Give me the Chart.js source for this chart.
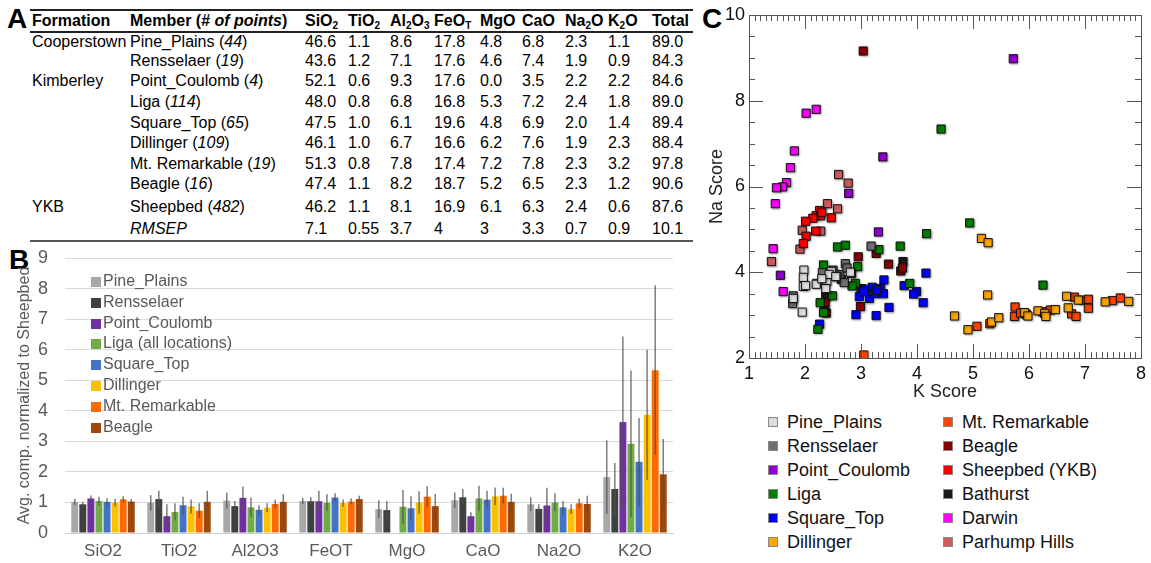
<!DOCTYPE html>
<html>
<head>
<meta charset="utf-8">
<script src="https://cdn.jsdelivr.net/npm/chart.js@4.4.0/dist/chart.umd.min.js"></script>
<style>
body{margin:0;width:1151px;height:563px;background:#fff;position:relative;overflow:hidden;font-family:"Liberation Sans",Arial,sans-serif;color:#000;}
.panel{position:absolute;font-weight:bold;font-size:28px;line-height:28px;}
.cell{position:absolute;font-size:16px;line-height:20px;white-space:nowrap;transform:translateY(-50%);}
.hd{font-weight:bold;}
.rule{position:absolute;left:30px;width:663px;}
sub{font-size:10px;vertical-align:-3px;line-height:0;}
.lgB{position:absolute;left:91px;font-size:16px;color:#595959;white-space:nowrap;line-height:20px;}
.lgB span{display:inline-block;width:10px;height:10px;margin-right:2px;vertical-align:-1px;}
.lgC{position:absolute;font-size:18px;color:#111;white-space:nowrap;line-height:22px;transform:translateY(-50%);}
.lgC span{display:inline-block;width:8px;height:8px;border:1px solid #888;margin-right:9px;vertical-align:1px;}
</style>
</head>
<body>
<div class="panel" style="left:7px;top:5px">A</div>
<div class="panel" style="left:9px;top:246px">B</div>
<div class="panel" style="left:702px;top:5px">C</div>
<div id="table"></div>
<canvas id="barChart" width="690" height="323" style="position:absolute;left:0;top:240px"></canvas>
<div id="legendB"></div>
<canvas id="scatterChart" width="451" height="405" style="position:absolute;left:700px;top:0"></canvas>
<div id="legendC"></div>
<script>
// ---- panel A: table ----
var formations = ["Cooperstown", "", "Kimberley", "", "", "", "", "", "YKB", ""];
var members = ["Pine_Plains", "Rensselaer", "Point_Coulomb", "Liga", "Square_Top", "Dillinger", "Mt. Remarkable", "Beagle", "Sheepbed", "RMSEP"];
var pointCounts = [44, 19, 4, 114, 65, 109, 19, 16, 482, null];
var sio2 = ["46.6", "43.6", "52.1", "48.0", "47.5", "46.1", "51.3", "47.4", "46.2", "7.1"];
var tio2 = ["1.1", "1.2", "0.6", "0.8", "1.0", "1.0", "0.8", "1.1", "1.1", "0.55"];
var al2o3 = ["8.6", "7.1", "9.3", "6.8", "6.1", "6.7", "7.8", "8.2", "8.1", "3.7"];
var feot = ["17.8", "17.6", "17.6", "16.8", "19.6", "16.6", "17.4", "18.7", "16.9", "4"];
var mgo = ["4.8", "4.6", "0.0", "5.3", "4.8", "6.2", "7.2", "5.2", "6.1", "3"];
var cao = ["6.8", "7.4", "3.5", "7.2", "6.9", "7.6", "7.8", "6.5", "6.3", "3.3"];
var na2o = ["2.3", "1.9", "2.2", "2.4", "2.0", "1.9", "2.3", "2.3", "2.4", "0.7"];
var k2o = ["1.1", "0.9", "2.2", "1.8", "1.4", "2.3", "3.2", "1.2", "0.6", "0.9"];
var total = ["89.0", "84.3", "84.6", "89.0", "89.4", "88.4", "97.8", "90.6", "87.6", "10.1"];
var tableHeads = ["Formation", "Member (# <i>of points</i>)", "SiO<sub>2</sub>", "TiO<sub>2</sub>", "Al<sub>2</sub>O<sub>3</sub>",
  "FeO<sub>T</sub>", "MgO", "CaO", "Na<sub>2</sub>O", "K<sub>2</sub>O", "Total"];

// ---- panel B: bars normalized to Sheepbed ----
var oxides = ["SiO2", "TiO2", "Al2O3", "FeOT", "MgO", "CaO", "Na2O", "K2O"];
var barNames = ["Pine_Plains", "Rensselaer", "Point_Coulomb", "Liga (all locations)", "Square_Top", "Dillinger", "Mt. Remarkable", "Beagle"];
var barColors = ["#a9a7a7", "#404040", "#7030a0", "#70ad47", "#4472c4", "#ffc000", "#ff6a00", "#9e480e"];
var pinePlains = [1.02, 0.99, 1.06, 1.05, 0.78, 1.07, 0.94, 1.83];
var rensselaer = [0.94, 1.11, 0.88, 1.04, 0.75, 1.17, 0.79, 1.44];
var pointCoulomb = [1.13, 0.55, 1.15, 1.04, null, 0.55, 0.90, 3.63];
var liga = [1.05, 0.69, 0.84, 0.99, 0.86, 1.13, 1.00, 2.92];
var squareTop = [1.02, 0.91, 0.76, 1.16, 0.81, 1.09, 0.84, 2.33];
var dillinger = [0.99, 0.87, 0.83, 0.98, 1.00, 1.20, 0.78, 3.87];
var mtRemarkable = [1.10, 0.73, 0.95, 1.03, 1.19, 1.22, 0.97, 5.33];
var beagle = [1.03, 1.02, 1.02, 1.11, 0.88, 1.02, 0.95, 1.92];
var pinePlainsErr = [0.10, 0.25, 0.26, 0.10, 0.29, 0.26, 0.23, 1.20];
var rensselaerErr = [0.08, 0.27, 0.17, 0.13, 0.30, 0.27, 0.15, 0.85];
var pointCoulombErr = [0.10, 0.39, 0.37, 0.34, null, 0.13, 0.58, 2.80];
var ligaErr = [0.14, 0.28, 0.32, 0.28, 0.55, 0.42, 0.30, 2.40];
var squareTopErr = [0.12, 0.28, 0.15, 0.14, 0.39, 0.29, 0.21, 1.43];
var dillingerErr = [0.12, 0.23, 0.14, 0.12, 0.37, 0.29, 0.16, 2.13];
var mtRemarkableErr = [0.10, 0.24, 0.14, 0.10, 0.34, 0.26, 0.16, 2.78];
var beagleErr = [0.08, 0.36, 0.25, 0.11, 0.40, 0.26, 0.27, 1.16];

// ---- panel C: K score vs Na score ----
var pinePts = [[1.98,4.05],[1.97,3.88],[1.97,3.67],[2.01,3.69],[2.2,3.72],[2.39,3.79],[2.37,3.62],[2.47,4.02],[2.43,3.95],[2.81,4.0],[1.79,3.39],[1.95,3.07],[2.3,3.85],[2.55,3.9]];
var rensPts = [[3.18,4.61],[2.72,4.2],[2.31,3.99],[2.62,3.95],[2.57,3.9],[2.83,3.97],[2.7,3.76],[2.21,3.74],[1.79,3.45],[1.78,3.27],[2.5,4.05],[2.75,4.1]];
var pcPts = [[5.72,8.98],[3.39,6.69],[2.78,5.84],[3.31,4.94],[1.56,3.93]];
var ligaPts = [[4.43,7.34],[2.58,4.59],[2.72,4.63],[3.32,4.53],[3.7,4.61],[4.17,4.9],[4.94,5.15],[2.94,4.13],[2.33,4.17],[2.65,3.83],[2.9,3.74],[2.84,3.68],[3.87,3.74],[2.49,3.45],[2.27,3.29],[2.33,3.06],[2.23,2.67],[6.25,3.7]];
var squarePts = [[4.16,3.98],[3.41,3.82],[3.77,3.69],[3.99,3.55],[3.94,3.49],[4.11,3.29],[3.5,3.18],[3.27,2.99],[2.91,3.01],[2.97,3.43],[3.15,3.39],[3.08,3.6],[3.2,3.65],[3.25,3.5],[3.35,3.62],[3.4,3.5],[2.26,2.79],[3.05,3.55],[3.28,3.58]];
var dillPts = [[5.15,4.79],[5.27,4.69],[5.26,3.47],[4.67,2.98],[4.91,2.66],[5.33,2.84],[5.46,2.94],[5.92,3.06],[5.98,2.98],[6.16,3.1],[6.28,3.04],[6.3,2.97],[6.47,3.13],[6.67,3.44],[6.88,3.35],[6.7,3.17],[7.36,3.31],[7.78,3.32]];
var mtPts = [[5.07,2.74],[5.3,2.8],[5.75,3.19],[5.74,2.97],[5.85,3.05],[5.95,3.02],[6.24,3.08],[6.38,3.12],[6.81,3.42],[6.97,3.35],[7.06,3.37],[7.06,3.16],[6.76,3.03],[6.84,2.97],[7.49,3.34],[7.63,3.4],[3.05,2.07]];
var beaglePts = [[3.04,9.16],[3.27,4.44],[2.95,4.36],[3.49,4.19],[3.71,4.03],[3.74,4.1],[2.99,3.2],[2.36,3.3],[2.38,3.05]];
var sheepbedPts = [[2.26,5.44],[2.2,5.32],[2.28,5.32],[2.14,5.26],[2.01,5.19],[2.47,5.27],[2.19,4.96],[2.02,4.84],[1.97,4.67],[2.3,5.4]];
var bathurstPts = [[3.75,4.25],[3.01,3.62],[2.37,3.43],[3.0,3.61],[2.35,3.15]];
var darwinPts = [[2.02,7.71],[2.2,7.8],[1.81,6.83],[1.74,6.44],[1.67,6.09],[1.6,5.99],[1.49,5.97],[1.47,5.6],[1.43,4.55],[1.61,3.55]];
var parhumpPts = [[2.6,6.28],[2.77,6.08],[2.4,5.6],[2.58,5.48],[1.95,4.98],[2.28,4.96],[1.91,4.54],[1.4,4.25]];
var groupNames = ["Pine_Plains", "Rensselaer", "Point_Coulomb", "Liga", "Square_Top", "Dillinger",
  "Mt. Remarkable", "Beagle", "Sheepbed (YKB)", "Bathurst", "Darwin", "Parhump Hills"];
var groupColors = ["#dcdcdc", "#707070", "#9400d3", "#007f00", "#0000ff", "#ffa500",
  "#ff4500", "#8b0000", "#ff0000", "#1a1a1a", "#ff00ff", "#cd5c5c"];

// build table
var colX = [32, 130, 305, 348, 390, 434, 480, 522, 565, 608, 652];
var rowY = [42, 61, 81, 102, 123, 143, 164, 184, 207, 229];
var oxideCols = [sio2, tio2, al2o3, feot, mgo, cao, na2o, k2o, total];
var html = "";
html += '<div class="rule" style="top:9px;height:2px;background:#222"></div>';
html += '<div class="rule" style="top:31px;height:2px;background:#222"></div>';
html += '<div class="rule" style="top:240px;height:2px;background:#555"></div>';
tableHeads.forEach(function (h, i) {
  html += '<div class="cell hd" style="left:' + colX[i] + 'px;top:21px">' + h + '</div>';
});
members.forEach(function (m, r) {
  var y = rowY[r];
  if (formations[r]) html += '<div class="cell" style="left:' + colX[0] + 'px;top:' + y + 'px">' + formations[r] + '</div>';
  var label = pointCounts[r] === null ? "<i>" + m + "</i>" : m + " (<i>" + pointCounts[r] + "</i>)";
  html += '<div class="cell" style="left:' + colX[1] + 'px;top:' + y + 'px">' + label + '</div>';
  oxideCols.forEach(function (col, c) {
    html += '<div class="cell" style="left:' + colX[c + 2] + 'px;top:' + y + 'px">' + col[r] + '</div>';
  });
});
document.getElementById("table").innerHTML = html;

// legends
var lb = "";
barNames.forEach(function (n, i) {
  lb += '<div class="lgB" style="top:' + (271 + i * 20.8) + 'px"><span style="background:' + barColors[i] + '"></span>' + n + '</div>';
});
document.getElementById("legendB").innerHTML = lb;
var lc = "";
groupNames.forEach(function (n, i) {
  var col = i < 6 ? 0 : 1, row = i % 6;
  lc += '<div class="lgC" style="left:' + (col ? 943 : 768) + 'px;top:' + (422 + row * 24) + 'px"><span style="background:' + groupColors[i] + '"></span>' + n + '</div>';
});
document.getElementById("legendC").innerHTML = lc;

// bar chart
var barSeries = [pinePlains, rensselaer, pointCoulomb, liga, squareTop, dillinger, mtRemarkable, beagle];
var barErrors = [pinePlainsErr, rensselaerErr, pointCoulombErr, ligaErr, squareTopErr, dillingerErr, mtRemarkableErr, beagleErr];

var errorBars = {
  id: "errorBars",
  afterDatasetsDraw: function (chart) {
    var ctx = chart.ctx, yScale = chart.scales.y;
    ctx.save();
    ctx.strokeStyle = "rgba(80,80,80,0.75)";
    ctx.lineWidth = 1.5;
    chart.data.datasets.forEach(function (ds, i) {
      var meta = chart.getDatasetMeta(i);
      meta.data.forEach(function (bar, j) {
        var v = ds.data[j], e = barErrors[i][j];
        if (v === null || e === null) return;
        ctx.beginPath();
        ctx.moveTo(bar.x, yScale.getPixelForValue(v - e));
        ctx.lineTo(bar.x, yScale.getPixelForValue(v + e));
        ctx.stroke();
      });
    });
    ctx.restore();
  }
};

new Chart(document.getElementById("barChart"), {
  type: "bar",
  data: {
    labels: oxides,
    datasets: barSeries.map(function (d, i) {
      return { label: barNames[i], data: d, backgroundColor: barColors[i], categoryPercentage: 0.85, barPercentage: 0.86 };
    })
  },
  options: {
    responsive: false,
    animation: false,
    layout: { padding: { top: 18, right: 17, left: 0, bottom: 0 } },
    plugins: { legend: { display: false }, tooltip: { enabled: false } },
    scales: {
      x: {
        grid: { display: false, drawTicks: false },
        border: { color: "#d0d0d0", width: 1 },
        ticks: { color: "#595959", font: { size: 17, family: "Liberation Sans" }, padding: 8 },
        afterFit: function (s) { s.height = 30; }
      },
      y: {
        min: 0, max: 9,
        ticks: { stepSize: 1, color: "#595959", font: { size: 18, family: "Liberation Sans" }, padding: 0 },
        grid: { color: "#d9d9d9", drawTicks: true, tickLength: 17, tickColor: "rgba(0,0,0,0)" },
        border: { display: false },
        title: { display: true, text: "Avg. comp. normalized to Sheepbed", color: "#595959",
          font: { size: 16, family: "Liberation Sans" }, padding: { top: 15, bottom: 0 } },
        afterFit: function (s) { s.width = 65; }
      }
    }
  },
  plugins: [errorBars]
});

// scatter chart
var scatterGroups = [pinePts, rensPts, pcPts, ligaPts, squarePts, dillPts, mtPts, beaglePts, sheepbedPts, bathurstPts, darwinPts, parhumpPts];

var markerShadow = {
  id: "markerShadow",
  beforeDatasetsDraw: function (chart) {
    var ctx = chart.ctx;
    ctx.save();
    ctx.shadowColor = "rgba(0,0,0,0.3)";
    ctx.shadowBlur = 2;
    ctx.shadowOffsetX = 1;
    ctx.shadowOffsetY = 1;
  },
  afterDatasetsDraw: function (chart) { chart.ctx.restore(); }
};

var frameTicks = {
  id: "frameTicks",
  afterDraw: function (chart) {
    var ctx = chart.ctx, a = chart.chartArea, xs = chart.scales.x, ys = chart.scales.y;
    ctx.save();
    ctx.strokeStyle = "#555";
    ctx.lineWidth = 1;
    ctx.strokeRect(Math.round(a.left) + 0.5, Math.round(a.top) + 0.5, Math.round(a.right - a.left), Math.round(a.bottom - a.top));
    ctx.beginPath();
    for (var i = 10; i <= 80; i++) {
      var px = Math.round(xs.getPixelForValue(i / 10)) + 0.5;
      var len = i % 10 === 0 ? 14 : 6;
      ctx.moveTo(px, a.bottom); ctx.lineTo(px, a.bottom - len);
      ctx.moveTo(px, a.top); ctx.lineTo(px, a.top + len);
    }
    for (var j = 4; j <= 20; j++) {
      var py = Math.round(ys.getPixelForValue(j / 2)) + 0.5;
      var ylen = j % 4 === 0 ? 14 : 6;
      ctx.moveTo(a.left, py); ctx.lineTo(a.left + ylen, py);
      ctx.moveTo(a.right, py); ctx.lineTo(a.right - ylen, py);
    }
    ctx.stroke();
    ctx.restore();
  }
};

new Chart(document.getElementById("scatterChart"), {
  type: "scatter",
  data: {
    datasets: scatterGroups.map(function (pts, i) {
      return {
        label: groupNames[i],
        data: pts.map(function (p) { return { x: p[0], y: p[1] }; }),
        pointStyle: "rect",
        pointRadius: 5.8,
        backgroundColor: groupColors[i],
        borderColor: "#111",
        borderWidth: 1
      };
    })
  },
  options: {
    responsive: false,
    animation: false,
    layout: { padding: { top: 15, right: 8, left: 0, bottom: 0 } },
    plugins: { legend: { display: false }, tooltip: { enabled: false } },
    scales: {
      x: {
        type: "linear", min: 1, max: 8,
        ticks: { stepSize: 1, color: "#111", font: { size: 18, family: "Liberation Sans" }, padding: 5 },
        grid: { display: false, drawTicks: false },
        border: { display: false },
        title: { display: true, text: "K Score", color: "#222", font: { size: 18, family: "Liberation Sans" }, padding: { top: 0, bottom: 2 } },
        afterFit: function (s) { s.height = 47; }
      },
      y: {
        min: 2, max: 10,
        ticks: { stepSize: 2, color: "#111", font: { size: 18, family: "Liberation Sans" }, padding: 4 },
        grid: { display: false, drawTicks: false },
        border: { display: false },
        title: { display: true, text: "Na Score", color: "#222", font: { size: 18, family: "Liberation Sans" }, padding: { top: 6, bottom: 0 } },
        afterFit: function (s) { s.width = 49; }
      }
    }
  },
  plugins: [markerShadow, frameTicks]
});
</script>
</body>
</html>
